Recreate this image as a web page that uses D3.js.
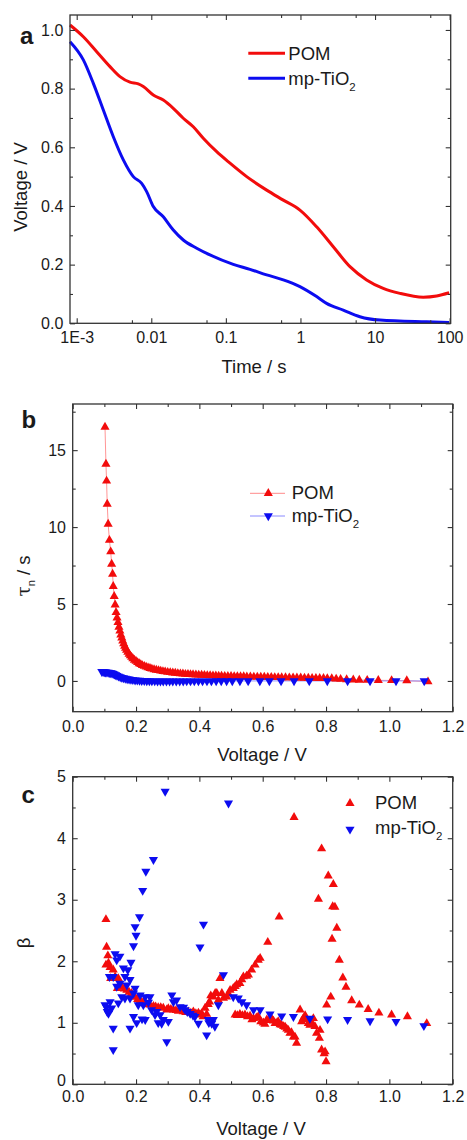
<!DOCTYPE html>
<html>
<head>
<meta charset="utf-8">
<script src="https://cdn.jsdelivr.net/npm/d3@7"></script>
<style>
body { margin: 0; background: #fff; }
text { font-family: "Liberation Sans", Arial, Helvetica, sans-serif; fill: #1a1a1a; }
</style>
</head>
<body>
<script>
// ---------- data ----------
// a: open-circuit voltage decay (time in s, voltage in V)
let pomTime = [8.13e-4, 1.227e-3, 1.854e-3, 2.793e-3, 3.802e-3, 5.176e-3, 6.699e-3, 7.816e-3, 0.01064, 0.01449,
  0.01972, 0.02685, 0.03656, 0.04977, 0.07534, 0.1135, 0.1901, 0.3524, 0.5888, 0.984,
  1.648, 2.754, 4.613, 7.709, 12.88, 21.58, 44.26, 66.99, 98.6]
let pomVoc = [1.017, 0.977, 0.926, 0.875, 0.841, 0.822, 0.816, 0.807, 0.778, 0.761,
  0.733, 0.699, 0.670, 0.631, 0.585, 0.546, 0.500, 0.454, 0.420, 0.386,
  0.329, 0.261, 0.193, 0.148, 0.119, 0.102, 0.089, 0.093, 0.104]
let tio2Time = [8.13e-4, 1.227e-3, 1.671e-3, 2.275e-3, 3.097e-3, 4.217e-3, 5.741e-3, 7.430e-3, 8.670e-3, 0.01064,
  0.01449, 0.01972, 0.02685, 0.04064, 0.06124, 0.1256, 0.2104, 0.3524, 0.5888, 0.984,
  1.648, 2.24, 3.75, 6.266, 11.64, 48.98, 98.6]
let tio2Voc = [0.960, 0.898, 0.818, 0.727, 0.636, 0.557, 0.500, 0.477, 0.449, 0.398,
  0.363, 0.318, 0.284, 0.256, 0.233, 0.201, 0.184, 0.165, 0.148, 0.125,
  0.091, 0.068, 0.045, 0.0225, 0.011, 0.005, 0.003]
let timeTicks = [1e-3, 0.01, 0.1, 1, 10, 100]
let timeLabels = ["1E-3", "0.01", "0.1", "1", "10", "100"]
let timeMinor = [5.5e-3, 0.055, 0.55, 5.5, 55]
let vocTicks = [0, 0.2, 0.4, 0.6, 0.8, 1.0]
let vocLabels = ["0.0", "0.2", "0.4", "0.6", "0.8", "1.0"]
let vocMinor = [0.1, 0.3, 0.5, 0.7, 0.9]

// b: electron lifetime vs voltage
let pomTauV = [0.102, 0.105, 0.107, 0.109, 0.112, 0.116, 0.120, 0.123, 0.126, 0.128,
  0.131, 0.134, 0.137, 0.140, 0.143, 0.146, 0.149, 0.152, 0.155, 0.158,
  0.161, 0.164, 0.167, 0.170, 0.174, 0.178, 0.182, 0.186, 0.190, 0.195,
  0.200, 0.205, 0.210, 0.215, 0.220, 0.226, 0.232, 0.238, 0.244, 0.250,
  0.257, 0.264, 0.271, 0.278, 0.285, 0.292, 0.300, 0.308, 0.316, 0.324,
  0.332, 0.340, 0.348, 0.356, 0.364, 0.372, 0.380, 0.389, 0.398, 0.407,
  0.416, 0.425, 0.434, 0.443, 0.452, 0.461, 0.470, 0.480, 0.490, 0.500,
  0.510, 0.520, 0.530, 0.540, 0.550, 0.561, 0.572, 0.583, 0.594, 0.605,
  0.616, 0.627, 0.638, 0.649, 0.660, 0.672, 0.684, 0.696, 0.708, 0.720,
  0.732, 0.744, 0.756, 0.768, 0.780, 0.792, 0.804, 0.818, 0.832, 0.846,
  0.865, 0.886, 0.905, 0.930, 0.965, 1.007, 1.055, 1.122]
let pomTau = [16.5, 14.1, 13.0, 11.5, 10.2, 9.15, 8.4, 7.6, 6.95, 6.15,
  5.5, 4.95, 4.45, 4.1, 3.8, 3.5, 3.25, 3.0, 2.8, 2.6,
  2.42, 2.27, 2.13, 2.0, 1.87, 1.75, 1.64, 1.54, 1.45, 1.36,
  1.28, 1.2, 1.13, 1.07, 1.01, 0.96, 0.91, 0.86, 0.82, 0.78,
  0.74, 0.71, 0.68, 0.65, 0.62, 0.6, 0.57, 0.55, 0.53, 0.51,
  0.49, 0.47, 0.46, 0.44, 0.43, 0.42, 0.41, 0.4, 0.39, 0.38,
  0.37, 0.36, 0.35, 0.34, 0.33, 0.32, 0.32, 0.31, 0.3, 0.3,
  0.29, 0.29, 0.28, 0.28, 0.27, 0.27, 0.26, 0.26, 0.25, 0.25,
  0.24, 0.24, 0.23, 0.23, 0.22, 0.22, 0.21, 0.21, 0.2, 0.2,
  0.19, 0.19, 0.18, 0.18, 0.17, 0.17, 0.16, 0.15, 0.13, 0.11,
  0.09, 0.07, 0.06, 0.05, 0.04, 0.03, 0.02, -0.05]
let tio2TauV = [0.092, 0.096, 0.100, 0.104, 0.108, 0.112, 0.116, 0.120, 0.124, 0.128,
  0.132, 0.136, 0.140, 0.145, 0.150, 0.155, 0.160, 0.166, 0.172, 0.178,
  0.184, 0.190, 0.197, 0.204, 0.211, 0.218, 0.226, 0.234, 0.242, 0.250,
  0.259, 0.268, 0.277, 0.286, 0.296, 0.306, 0.316, 0.327, 0.338, 0.349,
  0.360, 0.372, 0.384, 0.397, 0.410, 0.424, 0.438, 0.453, 0.469, 0.486,
  0.504, 0.528, 0.554, 0.591, 0.621, 0.658, 0.699, 0.747, 0.804, 0.868,
  0.939, 1.021, 1.110]
let tio2Tau = [0.6, 0.6, 0.58, 0.57, 0.56, 0.55, 0.54, 0.52, 0.5, 0.47,
  0.43, 0.39, 0.35, 0.3, 0.26, 0.22, 0.19, 0.16, 0.13, 0.11,
  0.09, 0.07, 0.05, 0.04, 0.03, 0.02, 0.01, 0.0, 0.0, -0.01,
  -0.01, -0.02, -0.02, -0.02, -0.02, -0.02, -0.02, -0.02, -0.02, -0.02,
  -0.01, -0.01, -0.01, -0.01, -0.01, -0.01, -0.01, 0.0, 0.0, 0.0,
  0.0, 0.0, 0.0, 0.0, 0.0, 0.0, 0.0, 0.0, 0.0, 0.0,
  0.0, 0.0, 0.0]
let voltTicks = [0, 0.2, 0.4, 0.6, 0.8, 1.0, 1.2]
let voltLabels = ["0.0", "0.2", "0.4", "0.6", "0.8", "1.0", "1.2"]
let voltMinor = [0.1, 0.3, 0.5, 0.7, 0.9, 1.1]
let tauTicks = [0, 5, 10, 15]
let tauLabels = ["0", "5", "10", "15"]
let tauMinor = [2.5, 7.5, 12.5, 17.5]

// c: beta vs voltage
let pomBetaV = [0.105, 0.107, 0.111, 0.105, 0.113, 0.118, 0.120, 0.128, 0.134, 0.144,
  0.141, 0.155, 0.163, 0.171, 0.178, 0.186, 0.191, 0.197, 0.205, 0.213,
  0.218, 0.223, 0.231, 0.239, 0.244, 0.255, 0.262, 0.270, 0.278, 0.286,
  0.297, 0.302, 0.310, 0.318, 0.326, 0.334, 0.342, 0.349, 0.357, 0.365,
  0.373, 0.381, 0.389, 0.397, 0.402, 0.407, 0.412, 0.418, 0.423, 0.428,
  0.432, 0.436, 0.444, 0.450, 0.455, 0.460, 0.465, 0.471, 0.476, 0.486,
  0.492, 0.497, 0.507, 0.513, 0.518, 0.528, 0.534, 0.539, 0.549, 0.555,
  0.565, 0.576, 0.586, 0.592, 0.616, 0.652, 0.699,
  0.513, 0.520, 0.528, 0.536, 0.544, 0.552, 0.560, 0.566, 0.571, 0.580,
  0.586, 0.594, 0.602, 0.607, 0.613, 0.620, 0.628, 0.634, 0.639, 0.645,
  0.649, 0.655, 0.660, 0.666, 0.671, 0.676, 0.681, 0.686, 0.691, 0.697,
  0.702, 0.707, 0.718, 0.723, 0.728, 0.734, 0.739, 0.744, 0.749, 0.755,
  0.760, 0.765, 0.770, 0.779, 0.781, 0.786, 0.794, 0.797, 0.800,
  0.776, 0.786, 0.802, 0.807, 0.815, 0.819, 0.821, 0.823, 0.828, 0.834,
  0.842, 0.853, 0.863, 0.881, 0.905, 0.933, 0.967, 1.007, 1.057, 1.118]
let pomBeta = [2.68, 2.23, 2.09, 1.94, 1.97, 1.90, 1.72, 1.86, 1.75, 1.72,
  1.56, 1.59, 1.55, 1.53, 1.50, 1.48, 1.42, 1.42, 1.38, 1.36,
  1.32, 1.34, 1.31, 1.30, 1.29, 1.27, 1.26, 1.25, 1.25, 1.24,
  1.21, 1.23, 1.22, 1.21, 1.20, 1.19, 1.20, 1.18, 1.17, 1.18,
  1.16, 1.18, 1.15, 1.16, 1.13, 1.15, 1.10, 1.24, 1.14, 1.30,
  1.34, 1.44, 1.42, 1.48, 1.48, 1.37, 1.72, 1.48, 1.40, 1.42,
  1.47, 1.53, 1.56, 1.59, 1.62, 1.64, 1.70, 1.75, 1.76, 1.78,
  1.86, 1.94, 2.02, 2.05, 2.31, 2.72, 4.34,
  1.13, 1.12, 1.14, 1.12, 1.13, 1.10, 1.11, 1.05, 1.07, 1.08,
  1.10, 1.02, 1.00, 0.98, 1.05, 1.04, 1.07, 1.03, 0.99, 1.00,
  1.02, 0.97, 0.96, 0.94, 0.93, 0.90, 0.88, 0.83, 0.84, 0.77,
  0.77, 0.67, 1.21, 1.02, 1.07, 1.12, 1.05, 0.99, 0.96, 1.00,
  1.07, 0.94, 0.83, 0.75, 0.88, 0.56, 0.50, 0.53, 0.37,
  3.01, 3.83, 1.29, 3.39, 1.42, 2.36, 2.89, 3.25, 2.88, 2.54,
  2.02, 1.73, 1.58, 1.36, 1.29, 1.22, 1.16, 1.13, 1.10, 0.99]
let tio2BetaV = [0.292, 0.492, 0.255, 0.231, 0.221, 0.211, 0.197, 0.200, 0.192, 0.413,
  0.402, 0.134, 0.149, 0.139, 0.184, 0.174, 0.160, 0.128, 0.116, 0.165,
  0.181, 0.149, 0.171, 0.139, 0.197, 0.192, 0.155, 0.181, 0.213, 0.229,
  0.244, 0.207, 0.223, 0.239, 0.249, 0.265, 0.276, 0.286, 0.302, 0.281,
  0.297, 0.313, 0.318, 0.328, 0.339, 0.355, 0.371, 0.386, 0.397, 0.423,
  0.428, 0.439, 0.449, 0.444, 0.460, 0.476, 0.507, 0.523, 0.534, 0.549,
  0.571, 0.592, 0.623, 0.660, 0.697, 0.749, 0.805, 0.868, 0.939, 1.021,
  1.109, 0.102, 0.118, 0.109, 0.123, 0.128, 0.128, 0.144, 0.165, 0.181,
  0.192, 0.202, 0.219, 0.229, 0.260, 0.107, 0.113, 0.350, 0.362, 0.380,
  0.270, 0.430]
let tio2Beta = [4.76, 4.57, 3.65, 3.46, 3.15, 2.72, 2.56, 2.42, 2.25, 2.60,
  2.23, 2.12, 2.08, 2.02, 1.98, 1.86, 1.89, 1.75, 1.75, 1.75,
  1.70, 1.64, 1.61, 1.59, 1.56, 1.48, 1.42, 1.40, 1.45, 1.42,
  1.42, 1.29, 1.29, 1.33, 1.21, 1.18, 1.13, 1.05, 1.02, 0.99,
  0.69, 1.45, 1.34, 1.37, 1.26, 1.21, 1.15, 1.10, 0.99, 0.80,
  1.05, 0.99, 0.94, 1.05, 1.29, 1.78, 1.42, 1.40, 1.34, 1.29,
  1.21, 1.21, 1.14, 1.11, 1.10, 1.07, 1.06, 1.05, 1.03, 1.02,
  0.95, 1.29, 1.34, 1.18, 1.24, 0.91, 0.56, 1.32, 1.40, 0.91,
  1.10, 1.00, 1.06, 1.05, 1.13, 1.25, 1.15, 1.25, 1.18, 1.12,
  1.00, 1.00]
let betaTicks = [0, 1, 2, 3, 4, 5]
let betaLabels = ["0", "1", "2", "3", "4", "5"]
let betaMinor = [0.5, 1.5, 2.5, 3.5, 4.5]

// ---------- setup ----------
let red = "#f20c0c", blue = "#0c0cf0"
let svg = d3.select("body").append("svg")
    .attr("width", 467)
    .attr("height", 1140)

// ticks inward on all four sides + frame
function axes(g, x, y, w, h, o) {
  let bottom = d3.axisBottom(x).tickValues(o.xTicks).tickFormat((d, i) => o.xLabels[i])
      .tickSize(-5).tickSizeOuter(0).tickPadding(o.xPad)
  let left = d3.axisLeft(y).tickValues(o.yTicks).tickFormat((d, i) => o.yLabels[i])
      .tickSize(-5).tickSizeOuter(0).tickPadding(6.7)
  g.append("g").attr("transform", `translate(0,${h})`).call(bottom)
  g.append("g").attr("transform", `translate(0,${h})`)
    .call(d3.axisBottom(x).tickValues(o.xMinor).tickFormat("").tickSize(-3).tickSizeOuter(0))
  g.append("g").call(d3.axisTop(x).tickValues(o.xTicks).tickFormat("").tickSize(-5).tickSizeOuter(0))
  g.append("g").call(d3.axisTop(x).tickValues(o.xMinor).tickFormat("").tickSize(-3).tickSizeOuter(0))
  g.append("g").call(left)
  g.append("g").call(d3.axisLeft(y).tickValues(o.yMinor).tickFormat("").tickSize(-3).tickSizeOuter(0))
  g.append("g").attr("transform", `translate(${w},0)`)
    .call(d3.axisRight(y).tickValues(o.yTicks).tickFormat("").tickSize(-5).tickSizeOuter(0))
  g.append("g").attr("transform", `translate(${w},0)`)
    .call(d3.axisRight(y).tickValues(o.yMinor).tickFormat("").tickSize(-3).tickSizeOuter(0))

  g.selectAll(".domain").remove()
  g.selectAll(".tick line").attr("stroke", "#333").attr("stroke-width", 1.1)
  g.selectAll(".tick text")
    .attr("font-size", 16)
    .attr("font-family", "'Liberation Sans', Arial, sans-serif")
    .attr("fill", "#1a1a1a")
  g.append("rect")
    .attr("width", w).attr("height", h)
    .attr("fill", "none").attr("stroke", "#333").attr("stroke-width", 1.3)
}

function tio2Label(t, x, y, size) {
  let txt = svg.append("text").attr("x", x).attr("y", y).attr("font-size", size)
  txt.append("tspan").text("mp-TiO")
  txt.append("tspan").attr("dy", 6).attr("font-size", size * 0.62).text("2")
  return txt
}

function letter(s, x, y) {
  svg.append("text").attr("x", x).attr("y", y)
    .attr("font-size", 24).attr("font-weight", "bold").text(s)
}

function yTitle(x, y) {
  return svg.append("text")
    .attr("transform", `translate(${x},${y}) rotate(-90)`)
    .attr("text-anchor", "middle")
    .attr("font-size", 18.5)
}

let tri = d3.symbol().type(d3.symbolTriangle).size(36)

// ---------- panel a ----------
let pa = {left: 70, top: 15, w: 380.7, h: 308.3}
let ga = svg.append("g").attr("transform", `translate(${pa.left},${pa.top})`)
let xa = d3.scaleLog().domain([8.13e-4, 103.4]).range([0, pa.w])
let ya = d3.scaleLinear().domain([0, 1.051]).range([pa.h, 0])

let lineA = d3.line()
    .x(d => xa(d[0]))
    .y(d => ya(d[1]))
    .curve(d3.curveMonotoneX)

ga.append("path").datum(d3.zip(pomTime, pomVoc))
  .attr("d", lineA).attr("fill", "none").attr("stroke", red).attr("stroke-width", 3)
ga.append("path").datum(d3.zip(tio2Time, tio2Voc))
  .attr("d", lineA).attr("fill", "none").attr("stroke", blue).attr("stroke-width", 3)

axes(ga, xa, ya, pa.w, pa.h, {xTicks: timeTicks, xLabels: timeLabels, xMinor: timeMinor, xPad: 8.6,
  yTicks: vocTicks, yLabels: vocLabels, yMinor: vocMinor})

// legend
svg.append("line").attr("x1", 248.3).attr("x2", 285).attr("y1", 53.3).attr("y2", 53.3)
  .attr("stroke", red).attr("stroke-width", 3)
svg.append("line").attr("x1", 248.3).attr("x2", 285).attr("y1", 78.3).attr("y2", 78.3)
  .attr("stroke", blue).attr("stroke-width", 3)
svg.append("text").attr("x", 288.3).attr("y", 59.5).attr("font-size", 18.5).text("POM")
tio2Label(svg, 288.3, 84.5, 18.5)

letter("a", 20, 44)
svg.append("text").attr("x", 254).attr("y", 373).attr("text-anchor", "middle")
  .attr("font-size", 18.5).text("Time / s")
yTitle(27, 187).text("Voltage / V")

// ---------- panel b ----------
let pb = {left: 72.7, top: 404, w: 380, h: 307.7}
let gb = svg.append("g").attr("transform", `translate(${pb.left},${pb.top})`)
let xb = d3.scaleLinear().domain([0, 1.2]).range([0, pb.w])
let yb = d3.scaleLinear().domain([-2, 18]).range([pb.h, 0])

let lineB = d3.line().x(d => xb(d[0])).y(d => yb(d[1]))
let pomB = d3.zip(pomTauV, pomTau)
let tio2B = d3.zip(tio2TauV, tio2Tau)

gb.append("path").datum(pomB).attr("d", lineB)
  .attr("fill", "none").attr("stroke", "#ff8a8a").attr("stroke-width", 0.9)
gb.append("path").datum(tio2B).attr("d", lineB)
  .attr("fill", "none").attr("stroke", "#8a8aff").attr("stroke-width", 0.9)

gb.selectAll(".pomB").data(pomB).enter().append("path")
  .attr("d", tri)
  .attr("transform", d => `translate(${xb(d[0])},${yb(d[1])})`)
  .attr("fill", red)
gb.selectAll(".tio2B").data(tio2B).enter().append("path")
  .attr("d", tri)
  .attr("transform", d => `translate(${xb(d[0])},${yb(d[1])}) rotate(180)`)
  .attr("fill", blue)

axes(gb, xb, yb, pb.w, pb.h, {xTicks: voltTicks, xLabels: voltLabels, xMinor: voltMinor, xPad: 8.9,
  yTicks: tauTicks, yLabels: tauLabels, yMinor: tauMinor})

// legend
svg.append("line").attr("x1", 250).attr("x2", 285).attr("y1", 493.3).attr("y2", 493.3)
  .attr("stroke", "#ff8a8a").attr("stroke-width", 1)
svg.append("path").attr("d", tri).attr("transform", "translate(268.3,493.3)").attr("fill", red)
svg.append("line").attr("x1", 250).attr("x2", 285).attr("y1", 516).attr("y2", 516)
  .attr("stroke", "#8a8aff").attr("stroke-width", 1)
svg.append("path").attr("d", tri).attr("transform", "translate(268.3,516) rotate(180)").attr("fill", blue)
svg.append("text").attr("x", 291.7).attr("y", 498.5).attr("font-size", 18.5).text("POM")
tio2Label(svg, 291.7, 521.5, 18.5)

letter("b", 21.5, 428)
svg.append("text").attr("x", 262).attr("y", 760.7).attr("text-anchor", "middle")
  .attr("font-size", 18.5).text("Voltage / V")
let tt = yTitle(30, 576)
tt.append("tspan").attr("font-family", "'DejaVu Serif', serif").text("τ")
tt.append("tspan").attr("dy", 5).attr("font-size", 11).text("n")
tt.append("tspan").attr("dy", -5).text(" / s")

// ---------- panel c ----------
let pc = {left: 72.7, top: 776.7, w: 380, h: 307.6}
let gc = svg.append("g").attr("transform", `translate(${pc.left},${pc.top})`)
let xc = d3.scaleLinear().domain([0, 1.2]).range([0, pc.w])
let yc = d3.scaleLinear().domain([0, 5]).range([pc.h, 0])

gc.selectAll(".pomC").data(d3.zip(pomBetaV, pomBeta)).enter().append("path")
  .attr("d", tri)
  .attr("transform", d => `translate(${xc(d[0])},${yc(d[1])})`)
  .attr("fill", red)
gc.selectAll(".tio2C").data(d3.zip(tio2BetaV, tio2Beta)).enter().append("path")
  .attr("d", tri)
  .attr("transform", d => `translate(${xc(d[0])},${yc(d[1])}) rotate(180)`)
  .attr("fill", blue)

axes(gc, xc, yc, pc.w, pc.h, {xTicks: voltTicks, xLabels: voltLabels, xMinor: voltMinor, xPad: 6,
  yTicks: betaTicks, yLabels: betaLabels, yMinor: betaMinor})
// lift the bottom "0" a little so it clears "0.0"
gc.selectAll(".tick text").filter(function() { return this.textContent === "0" }).attr("dy", "0.1em")

// legend
svg.append("path").attr("d", tri).attr("transform", "translate(350,803.3)").attr("fill", red)
svg.append("path").attr("d", tri).attr("transform", "translate(350,829.3) rotate(180)").attr("fill", blue)
svg.append("text").attr("x", 375).attr("y", 808.5).attr("font-size", 18.5).text("POM")
tio2Label(svg, 375, 834, 18.5)

letter("c", 21.5, 803)
svg.append("text").attr("x", 261).attr("y", 1135).attr("text-anchor", "middle")
  .attr("font-size", 18.5).text("Voltage / V")
yTitle(30, 943).attr("font-family", "'DejaVu Serif', serif").text("β")
</script>
</body>
</html>
